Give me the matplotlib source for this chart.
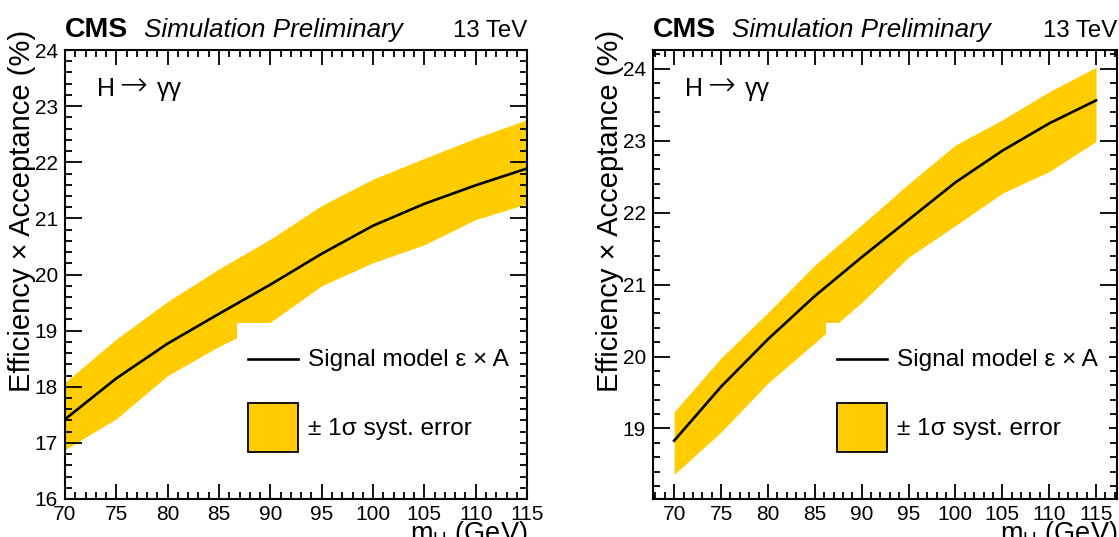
import matplotlib
matplotlib.use('Agg')
import numpy as np
import matplotlib.pyplot as plt
import matplotlib.patches as mpatches
from matplotlib.lines import Line2D
from matplotlib.legend_handler import HandlerLine2D
from matplotlib.ticker import MultipleLocator

plt.rcParams['font.family'] = ['Liberation Sans', 'DejaVu Sans']
plt.rcParams['mathtext.fontset'] = 'custom'
plt.rcParams['mathtext.rm'] = 'Liberation Sans'
plt.rcParams['mathtext.it'] = 'Liberation Sans:italic'

# datos (mH en GeV, eficiencia x aceptancia en %)
mass = [70, 75, 80, 85, 90, 95, 100, 105, 110, 115]

left_central = [17.42, 18.15, 18.77, 19.30, 19.82, 20.37, 20.87, 21.26, 21.59, 21.89]
left_up = [18.08, 18.85, 19.52, 20.10, 20.63, 21.23, 21.70, 22.07, 22.43, 22.76]
left_down = [16.88, 17.43, 18.20, 18.72, 19.15, 19.80, 20.21, 20.53, 20.98, 21.26]

right_central = [18.83, 19.58, 20.24, 20.84, 21.38, 21.90, 22.42, 22.86, 23.24, 23.56]
right_up = [19.23, 19.98, 20.61, 21.27, 21.83, 22.40, 22.94, 23.29, 23.68, 24.02]
right_down = [18.36, 18.95, 19.63, 20.19, 20.75, 21.38, 21.82, 22.27, 22.57, 22.99]

band_color = '#ffcc00'


# legend line centred on its label, like the box below it
class CenteredLine(HandlerLine2D):
    def create_artists(self, legend, orig_handle, xdescent, ydescent,
                       width, height, fontsize, trans):
        arts = super().create_artists(legend, orig_handle, xdescent, ydescent,
                                      width, height, fontsize, trans)
        for a in arts:
            a.set_ydata(np.asarray(a.get_ydata()) - ydescent / 2)
        return arts


def panel(ax, central, up, down, xlim, ylim):
    ax.fill_between(mass, down, up, color=band_color, lw=0, zorder=1)
    ax.plot(mass, central, color='black', lw=1.9, zorder=3)

    ax.set_xlim(*xlim)
    ax.set_ylim(*ylim)
    ax.xaxis.set_major_locator(MultipleLocator(5))
    ax.xaxis.set_minor_locator(MultipleLocator(1))
    ax.yaxis.set_major_locator(MultipleLocator(1))
    ax.yaxis.set_minor_locator(MultipleLocator(0.2))
    ax.tick_params(which='both', direction='in', top=True, right=True,
                   width=1.3, labelsize=15)
    ax.tick_params(axis='x', which='major', length=11, pad=4)
    ax.tick_params(axis='y', which='major', length=12, pad=5)
    ax.tick_params(which='minor', length=5)
    for s in ax.spines.values():
        s.set_linewidth(1.5)

    ax.set_xlabel(r'$\mathregular{m_H}$ (GeV)', fontsize=19.5, loc='right')
    ax.xaxis.set_label_coords(1.0, -0.044)
    ax.set_ylabel('Efficiency × Acceptance (%)', fontsize=21, loc='top')
    ax.yaxis.set_label_coords(-0.062, 1.045)

    ax.text(0.0, 1.029, 'CMS', transform=ax.transAxes, fontsize=20.5,
            fontweight='bold', va='baseline')
    ax.text(0.17, 1.029, 'Simulation Preliminary', transform=ax.transAxes,
            fontsize=18.7, style='italic', va='baseline')
    ax.text(1.0, 1.029, '13 TeV', transform=ax.transAxes, fontsize=17.3,
            ha='right', va='baseline')

    # H -> gamma gamma, the arrow from DejaVu which is longer
    ax.text(0.069, 0.898, 'H', transform=ax.transAxes, fontsize=18,
            va='baseline')
    ax.text(0.117, 0.898, '→', transform=ax.transAxes, fontsize=24,
            va='baseline', family='DejaVu Sans', fontweight='light')
    ax.text(0.199, 0.898, 'γγ', transform=ax.transAxes, fontsize=18,
            va='baseline')

    line_h = Line2D([], [], color='black', lw=1.9)
    box_h = mpatches.Patch(facecolor=band_color, edgecolor='black', lw=1.3)
    labels = ['Signal model ε × A', '± 1σ syst. error']
    ax.legend([line_h, box_h], labels, loc='upper left',
              handler_map={line_h: CenteredLine()},
              bbox_to_anchor=(0.372, 0.392), borderaxespad=0,
              frameon=True, fancybox=False, framealpha=1,
              facecolor='white', edgecolor='none', borderpad=0.45,
              handlelength=2.05, handleheight=2.74, handletextpad=0.42,
              labelspacing=0.79, fontsize=17.6)


fig = plt.figure(figsize=(11.19, 5.37), dpi=100)
ax1 = fig.add_axes([0.0581, 0.0708, 0.4129, 0.836])
ax2 = fig.add_axes([0.5836, 0.0708, 0.4147, 0.836])

panel(ax1, left_central, left_up, left_down, (70, 115), (16, 24))
panel(ax2, right_central, right_up, right_down, (67.75, 117.25), (18.02, 24.26))

plt.savefig('out.png', dpi=100)
